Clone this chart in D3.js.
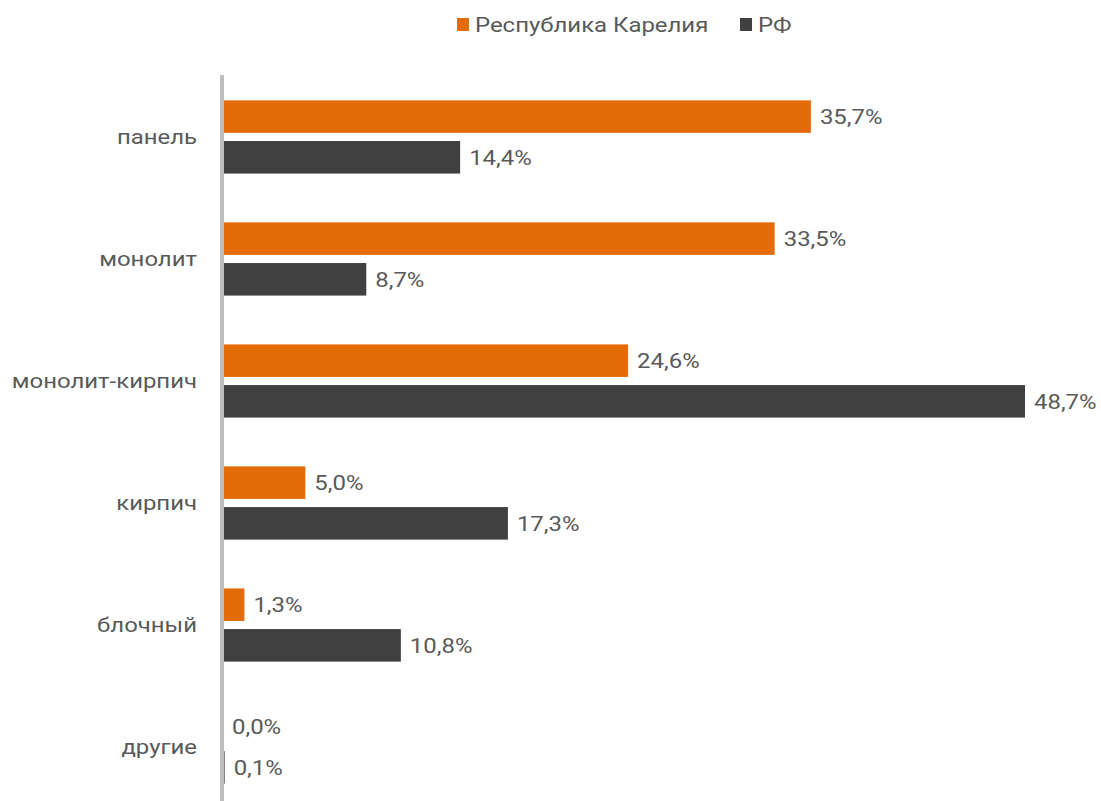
<!DOCTYPE html>
<html>
<head>
<meta charset="utf-8">
<script src="https://cdn.jsdelivr.net/npm/d3@7"></script>
<style>
  body { margin: 0; background: #fff; }
  text { font-family: Roboto, sans-serif; }
</style>
</head>
<body>
<div id="plot"></div>
<script>
// data
var categories = ['панель', 'монолит', 'монолит-кирпич', 'кирпич', 'блочный', 'другие'];
var seriesNames = ['Республика Карелия', 'РФ'];
var karelia = [35.7, 33.5, 24.6, 5.0, 1.3, 0.0];
var rf = [14.4, 8.7, 48.7, 17.3, 10.8, 0.1];
var colors = ['#e36c09', '#404040'];

var W = 1101, H = 801;
var margin = {t:79, r:76, b:-4, l:223};
var fs = 21, stretch = 1.14;   // text in the picture is a little wide

var svg = d3.select('#plot')
	.append('svg')
	.attr('width', W)
	.attr('height', H);

var x = d3.scaleLinear()
	.domain([0, 48.7])
	.range([margin.l, W - margin.r]);

var y = d3.scaleBand()
	.domain(categories)
	.range([margin.t, H - margin.b])
	.paddingInner(0.4)
	.paddingOuter(0.175);

var sub = d3.scaleBand()
	.domain([0, 1])
	.range([0, y.bandwidth()])
	.paddingInner(0.2);

var rows = categories.map(function(c, i){
	return {cat: c, vals: [karelia[i], rf[i]]};
});

var fmt = function(v){ return v.toFixed(1).replace('.', ',') + '%'; };

// helper: put a stretched text at (px,py)
function stretchedText(sel, px, py){
	return sel.attr('transform', function(d, j){
		return 'translate(' + px(d, j) + ',' + py(d, j) + ') scale(' + stretch + ',1)';
	});
}

var g = svg.selectAll('g.row')
	.data(rows)
	.enter()
	.append('g')
	.attr('class', 'row')
	.attr('transform', function(d){ return 'translate(0,' + y(d.cat) + ')'; });

g.selectAll('rect')
	.data(function(d){ return d.vals; })
	.enter()
	.append('rect')
	.attr('x', x(0))
	.attr('y', function(d, j){ return sub(j); })
	.attr('width', function(d){ return x(d) - x(0); })
	.attr('height', sub.bandwidth())
	.style('fill', function(d, j){ return colors[j]; });

stretchedText(g.selectAll('text.val')
	.data(function(d){ return d.vals; })
	.enter()
	.append('text')
	.attr('class', 'val')
	.attr('dy', '0.35em')
	.attr('font-size', fs)
	.attr('fill', '#595959')
	.text(fmt),
	function(d){ return x(d) + 9; },
	function(d, j){ return sub(j) + sub.bandwidth() / 2; });

// category labels
stretchedText(svg.selectAll('text.cat')
	.data(categories)
	.enter()
	.append('text')
	.attr('class', 'cat')
	.attr('dy', '0.35em')
	.attr('text-anchor', 'end')
	.attr('font-size', fs)
	.attr('fill', '#595959')
	.text(function(d){ return d; }),
	function(){ return 197; },
	function(d){ return y(d) + y.bandwidth() / 2; });

// axis line
svg.append('line')
	.attr('x1', 222).attr('x2', 222)
	.attr('y1', 75).attr('y2', H)
	.style('stroke', '#bfbfbf')
	.style('stroke-width', 4);

// legend
var legendX = [457, 740];
var lg = svg.selectAll('g.legend')
	.data(seriesNames)
	.enter()
	.append('g')
	.attr('class', 'legend')
	.attr('transform', function(d, i){ return 'translate(' + legendX[i] + ',18)'; });

lg.append('rect')
	.attr('width', 12)
	.attr('height', 13)
	.style('fill', function(d, i){ return colors[i]; });

stretchedText(lg.append('text')
	.attr('dy', '0.35em')
	.attr('font-size', fs)
	.attr('fill', '#595959')
	.text(function(d){ return d; }),
	function(){ return 18; },
	function(){ return 7; });
</script>
</body>
</html>
